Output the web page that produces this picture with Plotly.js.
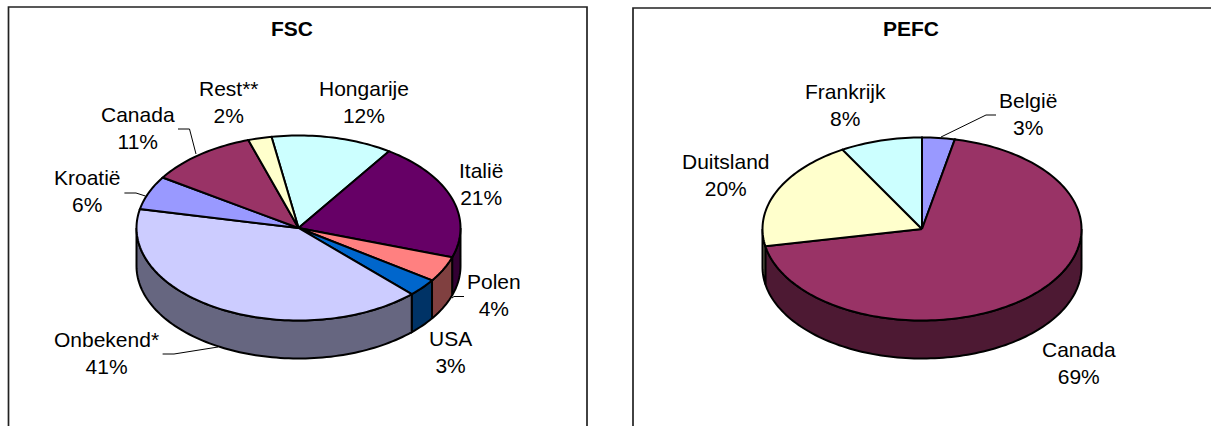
<!DOCTYPE html>
<html>
<head>
<meta charset="utf-8">
<script src="https://cdn.plot.ly/plotly-3.0.1.min.js"></script>
<style>html,body{margin:0;padding:0;background:#fff;overflow:hidden}#chart{width:1211px;height:426px}</style>
</head>
<body>
<div id="chart"></div>
<script>
// Data
const fscTitle = "FSC";
const fscLabels = ["Hongarije","Italië","Polen","USA","Onbekend*","Kroatië","Canada","Rest**"];
const fscValues = [12.1,20.7,4.45,3.1,40.6,5.9,10.8,2.35];
const fscColors = ["#CCFFFF","#660066","#FF8080","#0066CC","#CCCCFF","#9999FF","#993366","#FFFFCC"];
const fscSides  = ["#668080","#330033","#804040","#003366","#666680","#4D4D80","#4D1933","#808066"];
const pefcTitle = "PEFC";
const pefcLabels = ["België","Canada","Duitsland","Frankrijk"];
const pefcValues = [3.3,68.7,19.7,8.3];
const pefcColors = ["#9999FF","#993366","#FFFFCC","#CCFFFF"];
const pefcSides  = ["#4D4D80","#4D1933","#808066","#668080"];

// Layout (pixel-like axis units)
const fscGeom  = {cx:298.5, cy:228, rx:162, ry:92.5, depth:38, start:-9.6};
const pefcGeom = {cx:922, cy:229, rx:159.5, ry:91.5, depth:38, start:0};
const fscLabelPos  = [[363.5,101.5],[480.5,183.5],[494,295],[450,351.5],[106,353],[87.5,191],[137.5,127.5],[229,101.5]];
const pefcLabelPos = [[1028,113.5],[1079,363],[725.5,174.5],[845,104.5]];
const leaders = [
  [[178,189.5,196],[129,129,154]],
  [[124.4,136,145.4],[193,193,196]],
  [[464,454,452],[296.5,296.5,298]],
  [[162.6,174,218],[354,354,347]],
  [[996,986,941],[115,115,137]]
];
const LINE = 2, FONT = 21, FAMILY = '"Liberation Sans", Arial, sans-serif';

function pt(g, deg, dz){
  const a = deg*Math.PI/180;
  return [g.cx + g.rx*Math.sin(a), g.cy - g.ry*Math.cos(a) + (dz||0)];
}
function arc(g, a0, a1, dz){
  const n = Math.max(2, Math.ceil(Math.abs(a1-a0)/1.5));
  const out = [];
  for(let i=0;i<=n;i++) out.push(pt(g, a0+(a1-a0)*i/n, dz));
  return out;
}
function poly(points, fill){
  return {type:"scatter", mode:"lines", x:points.map(p=>p[0]), y:points.map(p=>p[1]),
    fill:"toself", fillcolor:fill, line:{color:"#000", width:LINE, simplify:false},
    hoverinfo:"skip", showlegend:false};
}
function pie(g, values, colors, sides){
  const total = values.reduce((a,b)=>a+b,0);
  let a = g.start;
  const spans = values.map(v=>{const s=[a,a+v/total*360]; a=s[1]; return s;});
  const side=[], top=[];
  spans.forEach((s,i)=>{
    const lo = Math.max(s[0],90), hi = Math.min(s[1],270);
    if(hi>lo){
      const front = arc(g,lo,hi,0), back = arc(g,hi,lo,g.depth);
      side.push(poly(front.concat(back,[front[0]]), sides[i]));
    }
    top.push(poly([[g.cx,g.cy]].concat(arc(g,s[0],s[1],0),[[g.cx,g.cy]]), colors[i]));
  });
  return side.concat(top);
}
function labelNotes(labels, values, pos){
  return labels.map((t,i)=>({x:pos[i][0], y:pos[i][1], xref:"x", yref:"y", showarrow:false,
    text:t+"<br>"+Math.round(values[i])+"%", align:"center", xanchor:"center", yanchor:"middle",
    font:{family:FAMILY, size:FONT, color:"#000"}}));
}

const traces = [].concat(
  pie(fscGeom, fscValues, fscColors, fscSides),
  pie(pefcGeom, pefcValues, pefcColors, pefcSides),
  leaders.map(l=>({type:"scatter", mode:"lines", x:l[0], y:l[1],
    line:{color:"#000", width:1}, hoverinfo:"skip", showlegend:false}))
);
const titleNote = (t,x)=>({x:x, y:28, xref:"x", yref:"y", showarrow:false, text:"<b>"+t+"</b>",
  xanchor:"center", yanchor:"middle", font:{family:FAMILY, size:21, color:"#000"}});

const layout = {
  width:1211, height:426, margin:{l:0,r:0,t:0,b:0,pad:0},
  paper_bgcolor:"#fff", plot_bgcolor:"#fff", showlegend:false,
  xaxis:{range:[0,1211], visible:false, fixedrange:true},
  yaxis:{range:[426,0], visible:false, fixedrange:true},
  shapes:[
    {type:"rect", xref:"x", yref:"y", x0:8.5, x1:587, y0:7, y1:440, line:{color:"#222",width:1.7}, layer:"below"},
    {type:"rect", xref:"x", yref:"y", x0:633, x1:1240, y0:8, y1:440, line:{color:"#222",width:1.7}, layer:"below"}
  ],
  annotations:[titleNote(fscTitle,292), titleNote(pefcTitle,910.5)]
    .concat(labelNotes(fscLabels,fscValues,fscLabelPos), labelNotes(pefcLabels,pefcValues,pefcLabelPos))
};
Plotly.newPlot("chart", traces, layout, {displayModeBar:false, staticPlot:true});
</script>
</body>
</html>
